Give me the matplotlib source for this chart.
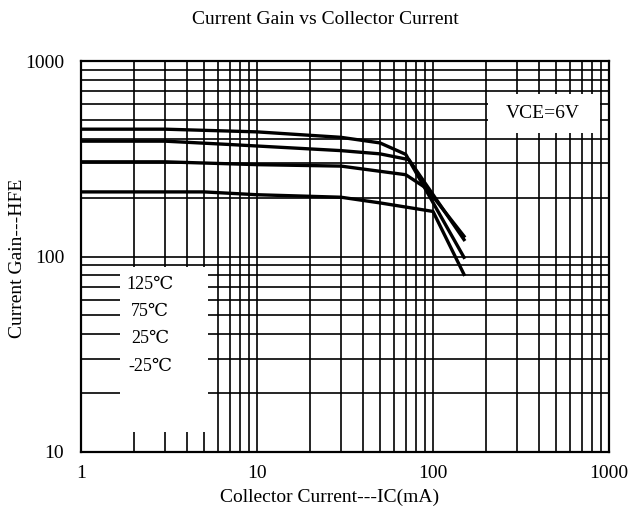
import matplotlib
matplotlib.use("Agg")
import matplotlib.pyplot as plt
from matplotlib.patches import Rectangle
from matplotlib.ticker import LogLocator, FixedFormatter, FixedLocator, NullFormatter

plt.rcParams['font.family'] = ['Liberation Serif', 'DejaVu Serif']

# hFE vs Ic curves, one per ambient temperature
ic_a = [1, 3, 10, 30, 50, 70, 150]
hfe_a = [448, 448, 434, 407, 381, 333, 99]
ic_b = [1, 3, 7, 30, 50, 73, 150]
hfe_b = [389, 389, 374, 348, 335, 313, 122]
ic_c = [1, 3, 10, 30, 70, 92, 150]
hfe_c = [305, 305, 295, 290, 262, 223, 127]
ic_d = [1, 5, 10, 30, 50, 100, 150]
hfe_d = [214, 214, 207, 201, 188, 170, 81]

temp_labels = ["125\u2103", "75\u2103", "25\u2103", "-25\u2103"]
x_ticks = [1, 10, 100, 1000]
y_ticks = [10, 100, 1000]

fig = plt.figure(figsize=(6.34, 5.29), dpi=100)
ax = fig.add_axes([81 / 634, 1 - 452 / 529, 528 / 634, 391 / 529])

ax.set_xscale("log")
ax.set_yscale("log")
ax.set_xlim(1, 1000)
ax.set_ylim(10, 1000)

ax.xaxis.set_major_locator(FixedLocator(x_ticks))
ax.xaxis.set_major_formatter(FixedFormatter([str(v) for v in x_ticks]))
ax.yaxis.set_major_locator(FixedLocator(y_ticks))
ax.yaxis.set_major_formatter(FixedFormatter([str(v) for v in y_ticks]))
for axis in (ax.xaxis, ax.yaxis):
    axis.set_minor_locator(LogLocator(base=10, subs=range(2, 10)))
    axis.set_minor_formatter(NullFormatter())

ax.grid(True, which="both", color="black", linewidth=1.2)
ax.tick_params(which="both", length=0, labelsize=14)
ax.tick_params(axis="x", pad=9)
ax.tick_params(axis="y", pad=12)
for s in ax.spines.values():
    s.set_linewidth(1.6)

for x, y in [(ic_a, hfe_a), (ic_b, hfe_b), (ic_c, hfe_c), (ic_d, hfe_d)]:
    ax.plot(x, y, color="black", linewidth=2.4, zorder=2)

# white panels over the grid for the annotations
ax.add_patch(Rectangle((1.665, 12.6), 5.27 - 1.665, 88 - 12.6,
                       facecolor="white", edgecolor="none", zorder=1.6))
ax.add_patch(Rectangle((205, 429), 889 - 205, 678 - 429,
                       facecolor="white", edgecolor="none", zorder=1.6))

for lbl, yv in zip(temp_labels, [71.5, 52.2, 37.9, 27.4]):
    ax.text(2.47, yv, lbl, ha="center", va="center", fontsize=13, zorder=3)
ax.text(422, 542, "VCE=6V", ha="center", va="center", fontsize=14, zorder=3)

fig.text(325 / 634, 1 - 20 / 529, "Current Gain vs Collector Current",
         ha="center", va="center", fontsize=14)
fig.text(330 / 634, 1 - 497 / 529, "Collector Current---IC(mA)",
         ha="center", va="center", fontsize=14)
fig.text(18 / 634, 1 - 258 / 529, "Current Gain---HFE",
         ha="center", va="center", rotation=90, fontsize=14)

fig.savefig("out.png", dpi=100)
